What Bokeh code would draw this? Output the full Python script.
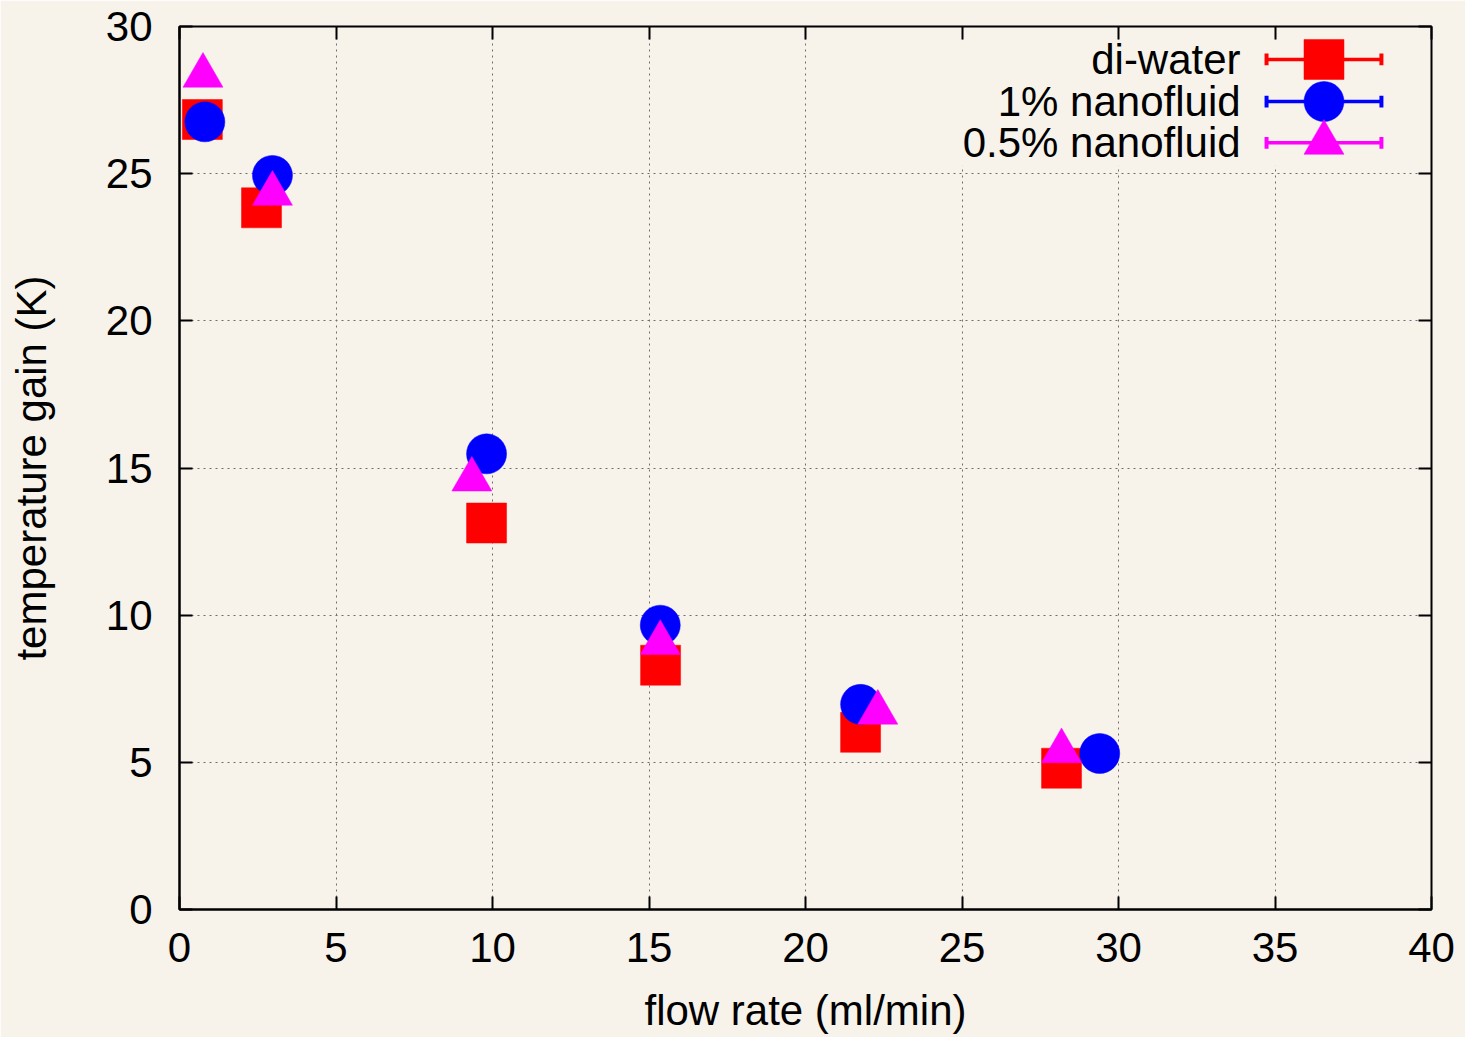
from bokeh.plotting import figure
from bokeh.models import Range1d, LinearAxis, FixedTicker
from bokeh.core.properties import value
from bokeh.embed import file_html
from bokeh.resources import INLINE

# Measured temperature gain versus flow rate for three working fluids
flow_water = [0.73, 2.62, 9.81, 15.37, 21.76, 28.18]
gain_water = [26.84, 23.84, 13.13, 8.30, 6.02, 4.80]

flow_np1 = [0.81, 2.97, 9.81, 15.36, 21.76, 29.40]
gain_np1 = [26.76, 24.94, 15.48, 9.66, 6.97, 5.30]

flow_np05 = [0.75, 2.97, 9.34, 15.36, 22.31, 28.18]
gain_np05 = [28.33, 24.32, 14.61, 9.06, 6.69, 5.38]

series_names = ["di-water", "1% nanofluid", "0.5% nanofluid"]
series_colors = ["#ff0000", "#0000ff", "#ff00ff"]
series_markers = ["square", "circle", "triangle"]

x_ticks = [0, 5, 10, 15, 20, 25, 30, 35, 40]
y_ticks = [0, 5, 10, 15, 20, 25, 30]

BG = "#f7f3eb"
FONT = "Liberation Sans"
FS = "42px"
MARKER = 40

p = figure(
    frame_width=1252, frame_height=883,
    min_border_left=179, min_border_right=34,
    min_border_top=26, min_border_bottom=128,
    x_range=Range1d(0, 40), y_range=Range1d(0, 30),
    output_backend="svg", toolbar_location=None,
    background_fill_color=BG, border_fill_color=BG,
)
p.outline_line_color = "black"
p.outline_line_width = 2

ticker_x = FixedTicker(ticks=x_ticks)
ticker_y = FixedTicker(ticks=y_ticks)

p.xaxis.ticker = ticker_x
p.yaxis.ticker = ticker_y
p.xaxis.axis_label = "flow rate (ml/min)"
p.yaxis.axis_label = "temperature gain (K)"

for ax in (p.xaxis[0], p.yaxis[0]):
    ax.axis_line_width = 2
    ax.major_tick_in = 13
    ax.major_tick_out = 0
    ax.major_tick_line_width = 2
    ax.minor_tick_line_color = None
    ax.major_label_text_font = FONT
    ax.major_label_text_font_size = FS
    ax.major_label_text_color = "black"
    ax.axis_label_text_font = FONT
    ax.axis_label_text_font_size = FS
    ax.axis_label_text_font_style = "normal"
    ax.axis_label_text_color = "black"

p.xaxis.major_label_standoff = 23
p.xaxis.axis_label_standoff = 22
p.yaxis.major_label_standoff = 27
p.yaxis.axis_label_standoff = 48

# mirrored ticks on the top and right edges (no labels)
for side, tk in (("above", ticker_x), ("right", ticker_y)):
    ax = LinearAxis(ticker=tk)
    ax.axis_line_color = None
    ax.major_tick_in = 13
    ax.major_tick_out = 0
    ax.major_tick_line_width = 2
    ax.minor_tick_line_color = None
    ax.major_label_text_color = None
    ax.major_label_standoff = 0
    p.add_layout(ax, side)

p.xgrid.ticker = ticker_x
p.ygrid.ticker = ticker_y
p.grid.grid_line_color = "#6e6e6e"
p.grid.grid_line_dash = "2 4"
p.grid.grid_line_width = 1

# data points
data = [(flow_water, gain_water), (flow_np1, gain_np1), (flow_np05, gain_np05)]
for (xs, ys), color, marker in zip(data, series_colors, series_markers):
    p.scatter(xs, ys, marker=marker, size=MARKER, fill_color=color,
              line_color=color, line_width=0.5)

# key: opaque box, right-aligned labels, sample bar with end caps and marker
key_left, key_right, key_bottom, key_top = 24.6, 38.75, 25.27, 29.56
p.quad(left=[key_left], right=[key_right], bottom=[key_bottom], top=[key_top],
       fill_color=BG, line_color=None)

key_rows = [28.88, 27.45, 26.05]
key_text_x = 33.9
key_bar_x0, key_bar_x1 = 34.73, 38.40
key_marker_x = (key_bar_x0 + key_bar_x1) / 2
cap_half = 0.2

for name, color, marker, ry in zip(series_names, series_colors, series_markers, key_rows):
    p.text(x=[key_text_x], y=[ry], text=[name], text_align="right",
           text_baseline="middle", text_font=value(FONT),
           text_font_size=value(FS), text_color="black")
    p.segment(x0=[key_bar_x0], y0=[ry], x1=[key_bar_x1], y1=[ry],
              line_color=color, line_width=3.5)
    p.segment(x0=[key_bar_x0, key_bar_x1], y0=[ry - cap_half, ry - cap_half],
              x1=[key_bar_x0, key_bar_x1], y1=[ry + cap_half, ry + cap_half],
              line_color=color, line_width=4)
    p.scatter([key_marker_x], [ry], marker=marker, size=MARKER,
              fill_color=color, line_color=color, line_width=0.5)

open("out.html", "w").write(file_html(p, INLINE))
